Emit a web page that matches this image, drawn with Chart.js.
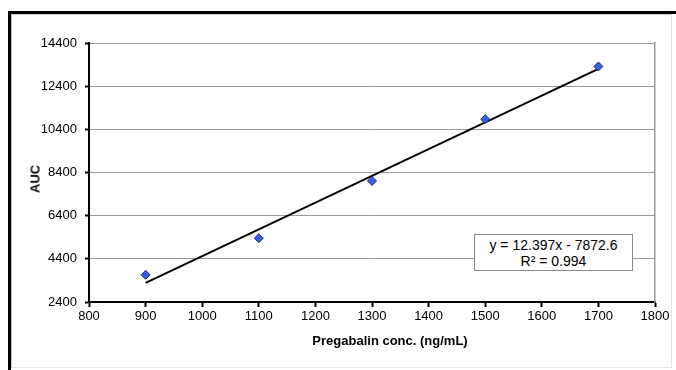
<!DOCTYPE html>
<html>
<head>
<meta charset="utf-8">
<script src="https://cdn.jsdelivr.net/npm/chart.js@4"></script>
<style>
  html, body { margin: 0; padding: 0; background: #fff; }
  #wrap { position: relative; width: 676px; height: 370px; overflow: hidden; font-family: "Liberation Sans", Arial, sans-serif; }
  #frame { position: absolute; left: 8px; top: 11px; width: 700px; height: 400px; border-top: 3px solid #000; border-left: 3px solid #000; box-sizing: border-box; }
  #frame2 { position: absolute; left: 11px; top: 14px; width: 661px; height: 354px; border: 1px solid #c8c8c8; border-right-color: #e4e4e4; border-bottom-color: #e4e4e4; box-sizing: border-box; }
  canvas { position: absolute; left: 0; top: 0; }
  .ttl { position: absolute; font-weight: bold; font-size: 13px; color: #000; white-space: nowrap; }
  #xt { left: 390px; top: 340px; transform: translate(-50%, -50%); }
  #yt { left: 35px; top: 179px; transform: translate(-50%, -50%) rotate(-90deg); }
  #eq { position: absolute; left: 474px; top: 234px; width: 159px; height: 37px; border: 1px solid #8a8a8a; background: #fff; box-sizing: border-box; text-align: center; font-size: 14px; line-height: 16.5px; padding-top: 1.5px; color: #000; }
</style>
</head>
<body>
<div id="wrap">
  <div id="frame"></div>
  <div id="frame2"></div>
  <canvas id="c" width="676" height="370"></canvas>
  <div id="eq">y = 12.397x - 7872.6<br>R² = 0.994</div>
  <div class="ttl" id="xt">Pregabalin conc. (ng/mL)</div>
  <div class="ttl" id="yt">AUC</div>
</div>
<script>
const concentrations = [900, 1100, 1300, 1500, 1700];
const aucValues = [3660, 5358, 8005, 10871, 13314];
const trendX = [900, 1700];
const trendY = [3284.7, 13202.3];
const xTicks = [800, 900, 1000, 1100, 1200, 1300, 1400, 1500, 1600, 1700, 1800];
const yTicks = [2400, 4400, 6400, 8400, 10400, 12400, 14400];

const pts = concentrations.map((x, i) => ({ x: x, y: aucValues[i] }));
const trend = trendX.map((x, i) => ({ x: x, y: trendY[i] }));

new Chart(document.getElementById('c'), {
  type: 'scatter',
  data: {
    datasets: [
      {
        label: 'Trend',
        data: trend,
        showLine: true,
        borderColor: '#000',
        borderWidth: 2,
        pointRadius: 0,
        fill: false,
        order: 2
      },
      {
        label: 'AUC',
        data: pts,
        pointStyle: 'rectRot',
        pointRadius: 4.5,
        backgroundColor: '#3a5fe0',
        borderColor: '#1b2a7a',
        borderWidth: 1,
        order: 1
      }
    ]
  },
  options: {
    responsive: false,
    animation: false,
    devicePixelRatio: 1,
    layout: { padding: { left: 0, top: 43, right: 21, bottom: 0 } },
    plugins: { legend: { display: false }, tooltip: { enabled: false } },
    scales: {
      x: {
        type: 'linear',
        min: 800, max: 1800,
        afterBuildTicks: s => { s.ticks = xTicks.map(v => ({ value: v })); },
        afterFit: s => { s.height = 68; },
        border: { color: '#000', width: 2 },
        grid: { drawOnChartArea: false, drawTicks: true, tickLength: 5, tickColor: '#000', tickWidth: 2 },
        ticks: { color: '#000', padding: 2, font: { family: 'Liberation Sans', size: 13 }, maxRotation: 0, callback: v => String(v) }
      },
      y: {
        type: 'linear',
        min: 2400, max: 14400,
        afterBuildTicks: s => { s.ticks = yTicks.map(v => ({ value: v })); },
        afterFit: s => { s.width = 89; },
        border: { color: '#000', width: 2 },
        grid: { color: '#9a9a9a', lineWidth: 1, drawTicks: true, tickLength: 4, tickColor: '#000', tickWidth: 2 },
        ticks: { color: '#000', padding: 8, font: { family: 'Liberation Sans', size: 13 }, callback: v => String(v) }
      },
      yr: {
        type: 'linear',
        position: 'right',
        min: 2400, max: 14400,
        afterFit: s => { s.width = 0; },
        border: { color: '#9a9a9a', width: 1.5 },
        grid: { drawOnChartArea: false, drawTicks: false },
        ticks: { display: false }
      }
    }
  }
});
</script>
</body>
</html>
